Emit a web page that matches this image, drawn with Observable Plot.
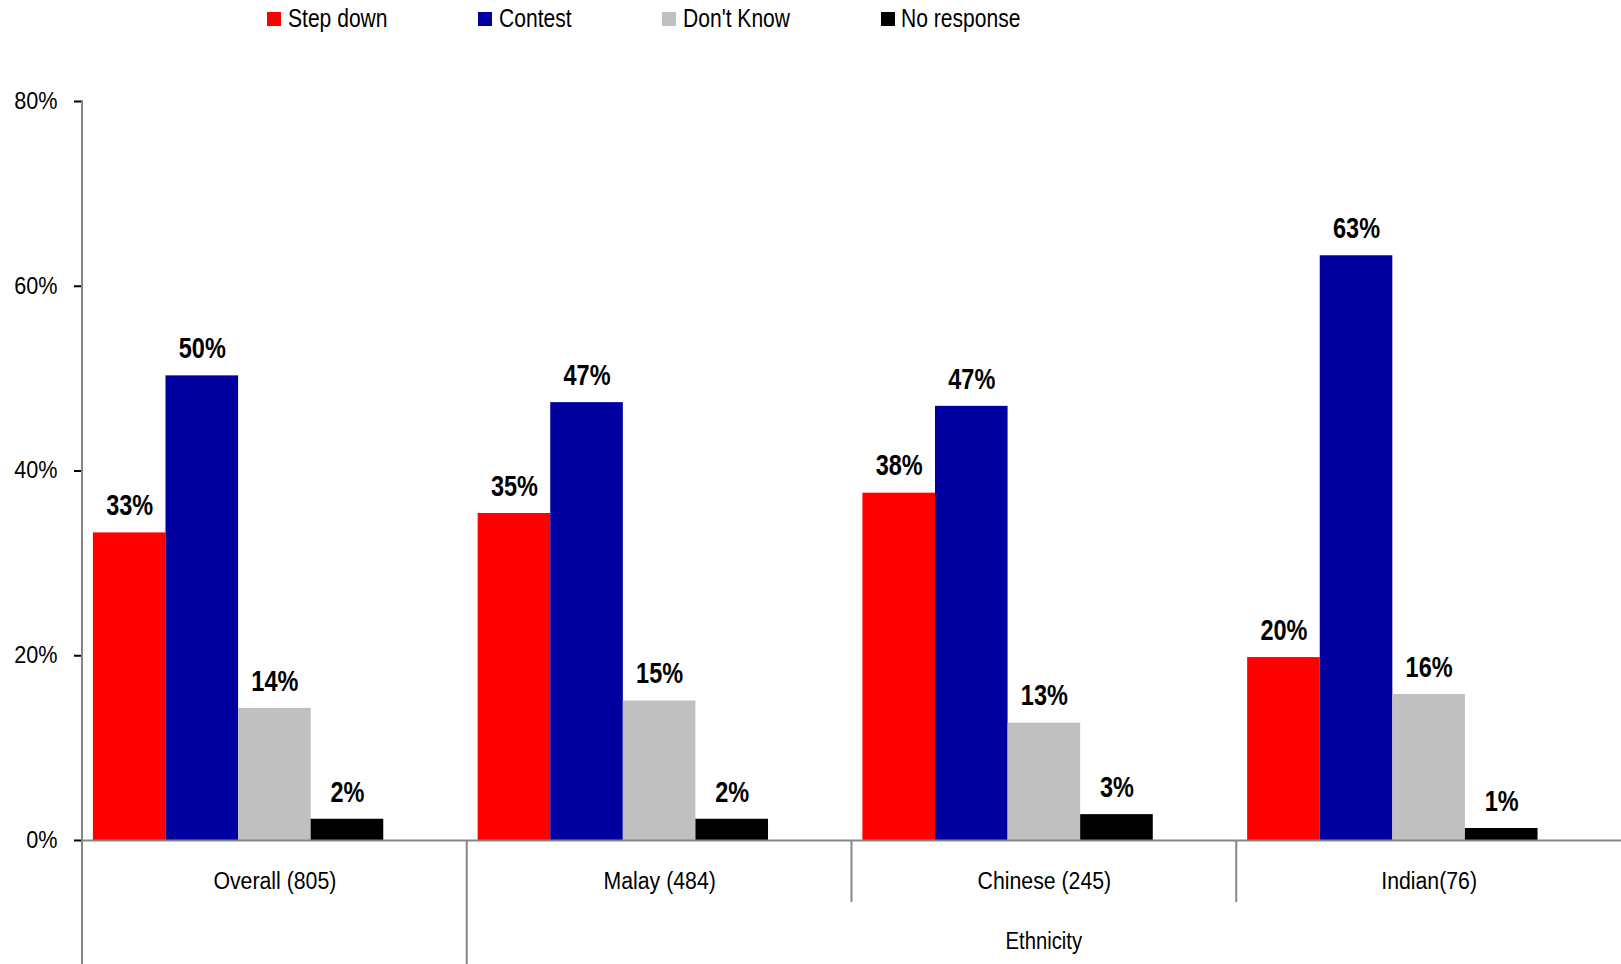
<!DOCTYPE html>
<html><head><meta charset="utf-8">
<script src="https://cdn.jsdelivr.net/npm/d3@7"></script>
<script src="https://cdn.jsdelivr.net/npm/@observablehq/plot@0.6"></script>
<style>
body{margin:0;background:#fff;font-family:"Liberation Sans","Arial",sans-serif;}
#legend{height:38px;display:flex;align-items:center;gap:91px;padding-left:267px;font-size:26px;color:#000;box-sizing:border-box}
.item{display:flex;align-items:center;gap:6.5px;white-space:nowrap}
.sw{width:14px;height:14px;display:inline-block;flex:none}
.lt{display:inline-block;white-space:nowrap;transform-origin:left center;position:relative;top:-1px}
#chart svg{display:block}
</style></head><body>
<div id="legend"></div><div id="chart"></div>
<script>
const categories = ["Overall (805)", "Malay (484)", "Chinese (245)", "Indian(76)"];
const series = ["Step down", "Contest", "Don't Know", "No response"];
const stepDown = [33.3, 35.4, 37.6, 19.8];
const contest = [50.3, 47.4, 47.0, 63.3];
const dontKnow = [14.3, 15.1, 12.7, 15.8];
const noResponse = [2.3, 2.3, 2.8, 1.3];
const colors = ["#ff0000", "#0000a0", "#c0c0c0", "#000000"];
const yTicks = [0, 20, 40, 60, 80];
const groupLabel = "Ethnicity";
const groupMembers = ["Malay (484)", "Chinese (245)", "Indian(76)"];

const seriesValues = [stepDown, contest, dontKnow, noResponse];
const data = categories.flatMap((c, i) => series.map((s, j) => ({cat: c, series: s, value: seriesValues[j][i]})));

const FONT = '"Liberation Sans","Arial",sans-serif';
const GRAY = "#868686";

// legend (HTML, above the SVG)
const legend = d3.select("#legend");
series.forEach((s, j) => {
  const it = legend.append("div").attr("class", "item");
  it.append("span").attr("class", "sw").style("background", colors[j]);
  it.append("span").attr("class", "lt").text(s);
});

const W = 1621, H = 926;
const plot = Plot.plot({
  width: W, height: H,
  marginTop: 63, marginBottom: 124, marginLeft: 82, marginRight: 0,
  style: {fontFamily: FONT, fontSize: "23px", color: "#000", background: "#fff", overflow: "visible"},
  fx: {domain: categories, padding: 0, round: false, axis: "bottom", tickSize: 0, tickPadding: 32, label: null},
  x: {domain: [...series, "(gap)"], paddingInner: 0, paddingOuter: 0.15, round: false, axis: null},
  y: {domain: [0, 80], ticks: yTicks, tickFormat: d => d + "%", tickSize: 8, tickPadding: 17, label: null},
  color: {domain: series, range: colors},
  marks: [
    Plot.barY(data, {fx: "cat", x: "series", y: "value", fill: "series", inset: 0}),
    Plot.text(data, {fx: "cat", x: "series", y: "value", text: d => Math.round(d.value) + "%",
      dy: -27, fontWeight: "bold", fontSize: 29, fill: "#000"}),
    Plot.ruleY([0], {stroke: GRAY, strokeWidth: 2})
  ]
});

const svg = d3.select(plot);
svg.selectAll('[aria-label="y-axis tick"]').attr("stroke", GRAY).attr("stroke-width", 2);

const fx = plot.scale("fx");
const y = plot.scale("y");
const bw = fx.bandwidth;
const y0 = y.apply(0);
const g = svg.append("g").attr("stroke", GRAY).attr("stroke-width", 2);
// y axis line (also the left divider of the first group)
g.append("line").attr("x1", fx.apply(categories[0])).attr("x2", fx.apply(categories[0]))
  .attr("y1", y.apply(yTicks[yTicks.length - 1]) - 1).attr("y2", H);
categories.forEach((c, i) => {
  if (i === 0) return;
  const x = fx.apply(c);
  const full = !groupMembers.includes(categories[i - 1]);
  g.append("line").attr("x1", x).attr("x2", x).attr("y1", y0).attr("y2", full ? H : y0 + 62);
});
const gx0 = fx.apply(groupMembers[0]);
const gx1 = fx.apply(groupMembers[groupMembers.length - 1]) + bw;
svg.append("text").attr("class", "grp").attr("x", (gx0 + gx1) / 2).attr("y", y0 + 102).attr("dy", "0.32em")
  .attr("text-anchor", "middle").attr("font-size", 23).attr("fill", "#000").text(groupLabel);

document.getElementById("chart").appendChild(plot);

// condense text to match the narrow typeface of the original
function condense(sel, ratio) {
  sel.each(function () {
    const w = this.getComputedTextLength();
    if (w > 0) {
      this.setAttribute("textLength", w * ratio);
      this.setAttribute("lengthAdjust", "spacingAndGlyphs");
    }
  });
}
condense(svg.selectAll('g[aria-label="text"] text'), 0.81);
condense(svg.selectAll('g[aria-label="y-axis tick label"] text'), 0.94);
condense(svg.selectAll('g[aria-label="fx-axis tick label"] text'), 0.925);
condense(svg.selectAll('text.grp'), 0.88);

legend.selectAll(".lt").each(function () {
  const w = this.getBoundingClientRect().width;
  this.style.width = (w * 0.81) + "px";
  this.style.transform = "scaleX(0.81)";
});
</script>
</body></html>
